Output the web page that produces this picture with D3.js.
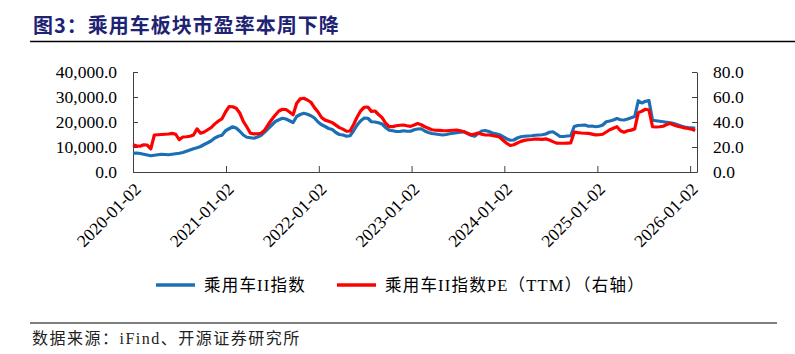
<!DOCTYPE html>
<html>
<head>
<meta charset="utf-8">
<script src="https://cdn.jsdelivr.net/npm/d3@7"></script>
<style>
body { margin: 0; background: #fff; }
svg { display: block; }
.eixo text { font-family: "Liberation Serif", "Times New Roman", serif; font-size: 17.5px; fill: #000; }
.eixo path, .eixo line { stroke: #404040; stroke-width: 1; }
</style>
</head>
<body>
<svg id="grafico" width="795" height="354"></svg>
<script>
// datas: uma observacao a cada 14 dias a partir de inicio
var inicio = "2020-01-02"
var passo_dias = 14
var fim_eixo = "2026-01-29"

var ticks_x = ["2020-01-02", "2021-01-02", "2022-01-02", "2023-01-02", "2024-01-02", "2025-01-02", "2026-01-02"]
var ticks_esq = [0, 10000, 20000, 30000, 40000]
var ticks_dir = [0, 20, 40, 60, 80]

var nomes = ["乘用车II指数", "乘用车II指数PE（TTM）（右轴）"]

// 乘用车II指数 (eixo esquerdo)
var indice = [
    7500, 7600, 7400, 7100, 6800, 6500, 6700, 6900, 7100, 7000,
    6900, 7100, 7300, 7500, 7800, 8300, 8800, 9300, 9700, 10200,
    11000, 11700, 12500, 13600, 14300, 14700, 16500, 17300, 18100, 17600,
    16300, 14800, 13900, 13700, 13500, 14000, 14700, 16000, 17400, 18800,
    20200, 20900, 21500, 21200, 20500, 19800, 22200, 23000, 23500, 23100,
    22500, 21600, 20000, 18900, 18200, 17400, 17000, 15800, 15000, 14800,
    14300, 14500, 16500, 18800, 20500, 21600, 21500, 20100, 20000, 19700,
    19200, 17800, 16700, 16500, 16200, 16200, 16500, 16300, 16300, 16900,
    17200, 17300, 16400, 15800, 15400, 15200, 15000, 14800, 15000, 15300,
    15500, 15700, 15900, 16100, 15400, 14700, 14300, 15400, 16400, 16600,
    16200, 15600, 15300, 14900, 14100, 13300, 12700, 12800, 13600, 14100,
    14300, 14400, 14500, 14700, 14800, 14900, 15200, 15900, 16100, 15200,
    14200, 14200, 14400, 14500, 18200, 18600, 18700, 18800, 18300, 18400,
    18100, 18300, 18800, 20100, 20400, 20800, 21400, 20900, 20800, 21200,
    21700, 22200, 28500, 27600, 28300, 28600, 20700, 20500, 20300, 20100,
    19900, 19700, 19400, 18900, 18400, 18000, 17800, 17700, 17500
]

// PE (TTM), eixo direito
var pe = [
    21.7, 21.0, 20.6, 21.8, 21.5, 18.5, 29.6, 29.8, 30.0, 30.2,
    30.4, 30.9, 30.2, 25.8, 28.0, 28.2, 28.6, 29.6, 34.5, 31.0,
    32.0, 33.8, 35.6, 38.5, 40.8, 42.5, 48.0, 52.3, 52.2, 51.0,
    47.2, 40.5, 36.0, 31.0, 30.5, 30.6, 31.0, 33.5, 38.0, 42.0,
    45.6, 48.8, 50.2, 50.0, 48.0, 45.8, 55.0, 58.5, 59.0, 57.6,
    55.8, 51.5, 48.0, 43.6, 41.5, 40.6, 39.5, 37.5, 35.5, 34.3,
    32.6, 32.8, 38.0, 44.0, 49.0, 51.8, 52.0, 48.5, 48.8, 46.0,
    43.5, 39.0, 36.3, 36.3, 37.0, 37.4, 37.6, 37.0, 36.5, 37.6,
    38.8, 37.8, 36.2, 35.0, 33.8, 33.4, 33.3, 33.1, 33.0, 33.2,
    33.4, 33.6, 33.0, 32.2, 31.0, 29.8, 30.3, 31.2, 30.2, 29.6,
    29.6, 29.2, 28.6, 28.0, 25.4, 23.0, 21.2, 21.8, 23.2, 24.5,
    25.3, 25.8, 26.0, 26.4, 26.3, 26.1, 26.5, 25.6, 24.3, 23.1,
    23.0, 23.0, 23.1, 23.2, 32.0, 31.5, 31.2, 31.0, 30.9, 30.3,
    29.7, 29.8, 30.2, 32.0, 33.8, 35.0, 36.2, 33.0, 31.8, 33.0,
    33.5, 34.5, 47.5, 48.6, 50.2, 49.6, 36.2, 36.0, 36.2, 36.6,
    38.0, 38.8, 37.6, 36.6, 36.0, 35.2, 34.8, 34.2, 33.2
]

var cor_indice = "#1a6fb5"
var cor_pe = "#ff0000"

function desenhar_grafico() {
    var parse = d3.timeParse("%Y-%m-%d")
    var d0 = parse(inicio)
    var datas = indice.map(function (v, i) { return d3.timeDay.offset(d0, i * passo_dias) })

    var svg = d3.select('#grafico')

    /* titulo */
    svg.append("text")
        .attr("x", 33)
        .attr("y", 33)
        .attr("font-family", "'Noto Sans CJK SC', 'Liberation Serif', sans-serif")
        .attr("font-weight", "bold")
        .attr("font-size", 20)
        .attr("letter-spacing", 1)
        .attr("fill", "#1f2374")
        .text("图3：乘用车板块市盈率本周下降")

    svg.append("line")
        .attr("x1", 30).attr("x2", 795)
        .attr("y1", 41.5).attr("y2", 41.5)
        .attr("stroke", "#000").attr("stroke-width", 1.5)

    var x = d3.scaleTime()
        .domain([d0, parse(fim_eixo)])
        .range([133, 697])

    var yEsq = d3.scaleLinear().domain([0, 40000]).range([172, 72])
    var yDir = d3.scaleLinear().domain([0, 80]).range([172, 72])

    //eixos - marcas de tick para dentro
    svg.append("g")
        .attr("class", "eixo")
        .attr("transform", "translate(133,0)")
        .call(d3.axisLeft(yEsq).tickValues(ticks_esq).tickSize(-5).tickSizeOuter(0)
            .tickPadding(16).tickFormat(d3.format(",.1f")))

    svg.append("g")
        .attr("class", "eixo")
        .attr("transform", "translate(697,0)")
        .call(d3.axisRight(yDir).tickValues(ticks_dir).tickSize(-5).tickSizeOuter(0)
            .tickPadding(16).tickFormat(d3.format(".1f")))

    var gx = svg.append("g")
        .attr("class", "eixo")
        .attr("transform", "translate(0,172)")
        .call(d3.axisBottom(x).tickValues(ticks_x.map(parse)).tickSize(-6).tickSizeOuter(0)
            .tickFormat(function (d, i) { return ticks_x[i] }))

    gx.selectAll(".tick text")
        .attr("text-anchor", "end")
        .attr("dy", "0.35em")
        .attr("y", 0)
        .attr("transform", "translate(4,14) rotate(-45)")

    /* linhas */
    var linhaEsq = d3.line()
        .x(function (d, i) { return x(datas[i]) })
        .y(function (d) { return yEsq(d) })

    var linhaDir = d3.line()
        .x(function (d, i) { return x(datas[i]) })
        .y(function (d) { return yDir(d) })

    svg.append("path")
        .datum(indice)
        .attr("fill", "none")
        .attr("stroke", cor_indice)
        .attr("stroke-width", 3.2)
        .attr("stroke-linejoin", "round")
        .attr("d", linhaEsq)

    svg.append("path")
        .datum(pe)
        .attr("fill", "none")
        .attr("stroke", cor_pe)
        .attr("stroke-width", 3.2)
        .attr("stroke-linejoin", "round")
        .attr("d", linhaDir)

    /* legenda */
    var legenda = [
        { nome: nomes[0], cor: cor_indice, x: 156 },
        { nome: nomes[1], cor: cor_pe, x: 337 }
    ]
    var itens = svg.selectAll(".legenda")
        .data(legenda)
        .enter()
        .append("g")
        .attr("class", "legenda")
        .attr("transform", function (d) { return "translate(" + d.x + ",285)" })

    itens.append("line")
        .attr("x1", 0).attr("x2", 39)
        .attr("stroke", function (d) { return d.cor })
        .attr("stroke-width", 3.5)

    itens.append("text")
        .attr("x", 48)
        .attr("dy", "0.35em")
        .attr("font-family", "'Liberation Serif', 'Noto Sans CJK SC', serif")
        .attr("font-size", 16.5)
        .attr("letter-spacing", 1.2)
        .text(function (d) { return d.nome })

    /* fonte */
    svg.append("line")
        .attr("x1", 30).attr("x2", 777)
        .attr("y1", 323).attr("y2", 323)
        .attr("stroke", "#000").attr("stroke-width", 1)

    svg.append("text")
        .attr("x", 32)
        .attr("y", 344)
        .attr("font-family", "'Liberation Serif', 'Noto Sans CJK SC', serif")
        .attr("font-size", 16)
        .attr("letter-spacing", 1.5)
        .attr("fill", "#222")
        .text("数据来源：iFind、开源证券研究所")
}

desenhar_grafico()
</script>
</body>
</html>
